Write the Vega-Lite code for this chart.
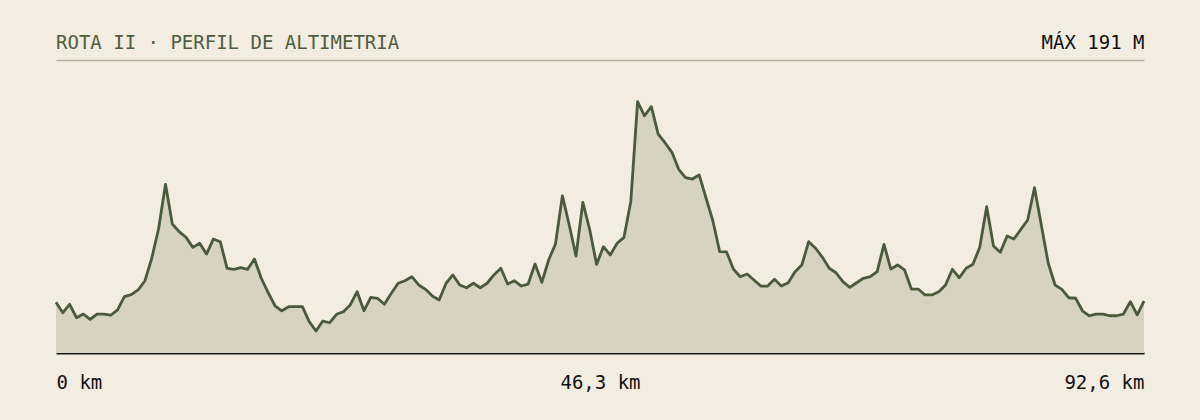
{
"$schema": "https://vega.github.io/schema/vega-lite/v6.json",
"width": 1088, "height": 280,
"autosize": {"type": "none"},
"padding": {"left": 56, "right": 56, "top": 73, "bottom": 67},
"background": "#f2ece1",
"config": {"view": {"stroke": null}, "font": "DejaVu Sans Mono"},
"title": {"text": "ROTA II · PERFIL DE ALTIMETRIA", "anchor": "start", "frame": "group", "orient": "top", "baseline": "alphabetic", "offset": -35, "fontSize": 19, "fontWeight": "normal", "color": "#4f5e3f", "font": "DejaVu Sans Mono"},
"data": {"values": [
{"km":0,"elev":38.5},{"km":0.58,"elev":30.6},{"km":1.16,"elev":37.0},{"km":1.75,"elev":26.8},{"km":2.33,"elev":29.6},{"km":2.91,"elev":25.6},{"km":3.49,"elev":29.6},{"km":4.08,"elev":29.6},{"km":4.66,"elev":28.7},{"km":5.24,"elev":32.7},
{"km":5.82,"elev":42.8},{"km":6.41,"elev":44.3},{"km":6.99,"elev":47.9},{"km":7.57,"elev":54.9},{"km":8.15,"elev":72.0},{"km":8.74,"elev":94.8},{"km":9.32,"elev":128.2},{"km":9.90,"elev":98.0},{"km":10.48,"elev":92.2},{"km":11.07,"elev":87.9},
{"km":11.65,"elev":80.3},{"km":12.23,"elev":83.4},{"km":12.81,"elev":75.2},{"km":13.39,"elev":86.6},{"km":13.98,"elev":84.6},{"km":14.56,"elev":64.4},{"km":15.14,"elev":63.6},{"km":15.72,"elev":64.8},{"km":16.31,"elev":63.6},{"km":16.89,"elev":71.4},
{"km":17.47,"elev":56.8},{"km":18.05,"elev":46.1},{"km":18.64,"elev":35.9},{"km":19.22,"elev":32.1},{"km":19.80,"elev":35.2},{"km":20.38,"elev":35.2},{"km":20.97,"elev":35.2},{"km":21.55,"elev":23.8},{"km":22.13,"elev":16.7},{"km":22.71,"elev":24.3},
{"km":23.30,"elev":23.0},{"km":23.88,"elev":29.4},{"km":24.46,"elev":31.4},{"km":25.04,"elev":36.5},{"km":25.63,"elev":46.6},{"km":26.21,"elev":32.1},{"km":26.79,"elev":42.3},{"km":27.37,"elev":41.6},{"km":27.95,"elev":37.0},{"km":28.54,"elev":45.4},
{"km":29.12,"elev":53.0},{"km":29.70,"elev":54.9},{"km":30.28,"elev":58.0},{"km":30.87,"elev":51.7},{"km":31.45,"elev":48.4},{"km":32.03,"elev":43.3},{"km":32.61,"elev":40.3},{"km":33.20,"elev":53.0},{"km":33.78,"elev":59.3},{"km":34.36,"elev":51.7},
{"km":34.94,"elev":49.6},{"km":35.53,"elev":53.0},{"km":36.11,"elev":49.6},{"km":36.69,"elev":53.0},{"km":37.27,"elev":59.3},{"km":37.86,"elev":64.4},{"km":38.44,"elev":52.4},{"km":39.02,"elev":54.9},{"km":39.60,"elev":50.9},{"km":40.18,"elev":52.4},
{"km":40.77,"elev":67.6},{"km":41.35,"elev":53.7},{"km":41.93,"elev":70.7},{"km":42.51,"elev":82.8},{"km":43.10,"elev":119.5},{"km":43.68,"elev":97.3},{"km":44.26,"elev":73.7},{"km":44.84,"elev":114.5},{"km":45.43,"elev":93.5},{"km":46.01,"elev":67.3},
{"km":46.59,"elev":80.8},{"km":47.17,"elev":74.5},{"km":47.76,"elev":83.4},{"km":48.34,"elev":87.9},{"km":48.92,"elev":115.0},{"km":49.50,"elev":191.0},{"km":50.09,"elev":180.3},{"km":50.67,"elev":187.2},{"km":51.25,"elev":166.4},{"km":51.83,"elev":159.8},
{"km":52.42,"elev":152.5},{"km":53.00,"elev":139.6},{"km":53.58,"elev":133.2},{"km":54.16,"elev":132.2},{"km":54.74,"elev":135.3},{"km":55.33,"elev":117.6},{"km":55.91,"elev":100.3},{"km":56.49,"elev":77.0},{"km":57.07,"elev":76.8},{"km":57.66,"elev":63.6},
{"km":58.24,"elev":58.0},{"km":58.82,"elev":60.0},{"km":59.40,"elev":55.5},{"km":59.99,"elev":50.9},{"km":60.57,"elev":50.9},{"km":61.15,"elev":56.0},{"km":61.73,"elev":50.9},{"km":62.32,"elev":53.4},{"km":62.90,"elev":61.8},{"km":63.48,"elev":66.9},
{"km":64.06,"elev":84.6},{"km":64.65,"elev":79.6},{"km":65.23,"elev":72.7},{"km":65.81,"elev":64.4},{"km":66.39,"elev":61.0},{"km":66.97,"elev":54.2},{"km":67.56,"elev":49.9},{"km":68.14,"elev":53.4},{"km":68.72,"elev":56.8},{"km":69.30,"elev":58.0},
{"km":69.89,"elev":61.8},{"km":70.47,"elev":82.6},{"km":71.05,"elev":63.8},{"km":71.63,"elev":66.9},{"km":72.22,"elev":63.1},{"km":72.80,"elev":48.6},{"km":73.38,"elev":48.6},{"km":73.96,"elev":44.1},{"km":74.55,"elev":44.1},{"km":75.13,"elev":46.6},
{"km":75.71,"elev":51.7},{"km":76.29,"elev":63.6},{"km":76.88,"elev":57.2},{"km":77.46,"elev":64.4},{"km":78.04,"elev":67.4},{"km":78.62,"elev":80.3},{"km":79.21,"elev":111.2},{"km":79.79,"elev":81.3},{"km":80.37,"elev":76.5},{"km":80.95,"elev":88.9},
{"km":81.53,"elev":86.6},{"km":82.12,"elev":94.0},{"km":82.70,"elev":101.1},{"km":83.28,"elev":125.6},{"km":83.86,"elev":97.3},{"km":84.45,"elev":68.2},{"km":85.03,"elev":51.7},{"km":85.61,"elev":48.4},{"km":86.19,"elev":42.0},{"km":86.78,"elev":41.6},
{"km":87.36,"elev":32.1},{"km":87.94,"elev":28.3},{"km":88.52,"elev":29.6},{"km":89.11,"elev":29.6},{"km":89.69,"elev":28.3},{"km":90.27,"elev":28.3},{"km":90.85,"elev":29.6},{"km":91.44,"elev":39.0},{"km":92.02,"elev":28.9},{"km":92.60,"elev":39.5}
]},
"layer": [
{
"mark": {"type": "area", "fill": "#d6d3c3", "stroke": null, "interpolate": "linear"},
"encoding": {
"x": {"field": "km", "type": "quantitative", "scale": {"domain": [0, 92.6], "nice": false, "zero": false},
"axis": {"orient": "bottom", "values": [0, 46.3, 92.6], "labelExpr": "datum.value == 0 ? '0 km' : replace(format(datum.value, '.1f'), '.', ',') + ' km'", "labelFlush": true, "labelFont": "DejaVu Sans Mono", "labelFontSize": 19, "labelColor": "#111111", "labelBaseline": "alphabetic", "labelPadding": 35, "ticks": false, "tickSize": 0, "grid": false, "domain": true, "domainColor": "#1a1a1a", "domainWidth": 2, "title": null}},
"y": {"field": "elev", "type": "quantitative", "scale": {"domain": [0, 212.8], "nice": false, "zero": false}, "axis": null}
}
},
{
"mark": {"type": "line", "stroke": "#4b5a3d", "strokeWidth": 2.8, "interpolate": "linear", "strokeJoin": "round"},
"encoding": {
"x": {"field": "km", "type": "quantitative",
"axis": {"orient": "top", "offset": 13, "ticks": false, "tickSize": 0, "labels": false, "grid": false, "domain": true, "domainColor": "#b3b4a1", "domainWidth": 1.5, "title": "MÁX 191 M", "titleAnchor": "end", "titleAlign": "right", "titleBaseline": "alphabetic", "titlePadding": 12, "titleFont": "DejaVu Sans Mono", "titleFontSize": 19, "titleFontWeight": "normal", "titleColor": "#111111"}},
"y": {"field": "elev", "type": "quantitative"}
}
}
]
}
